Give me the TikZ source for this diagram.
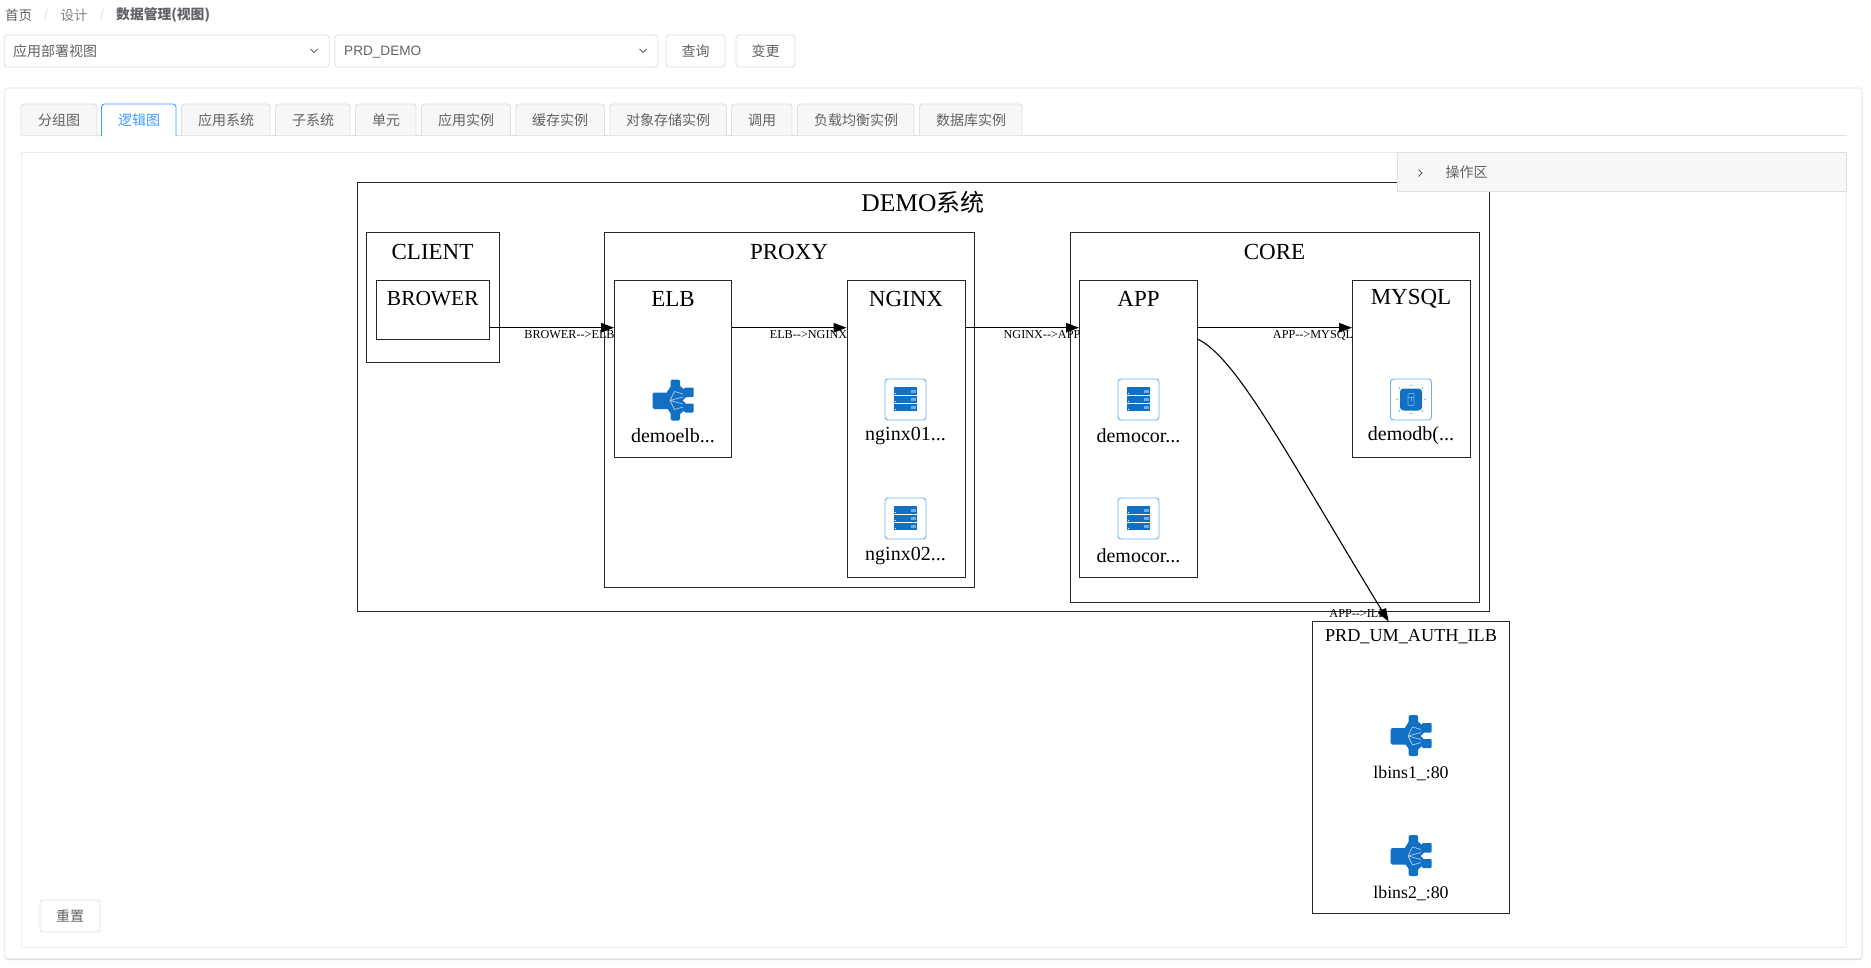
\documentclass[tikz,border=0pt]{standalone}
\usepackage{fontspec}
\setmainfont{Liberation Serif}
\newfontfamily\cjk{Noto Sans CJK SC}
\newfontfamily\uilatin{Liberation Sans}
\usetikzlibrary{arrows.meta}
\definecolor{uitext}{HTML}{606266}
\definecolor{uiline}{HTML}{DCDFE6}
\definecolor{uitab}{HTML}{F7F7F7}
\definecolor{uiblue}{HTML}{409EFF}
\definecolor{uishadow}{HTML}{EDEDED}
\definecolor{iconblue}{HTML}{1270C4}
\definecolor{iconline}{HTML}{6DB0EA}
\definecolor{iconpale}{HTML}{6FAEE6}
\definecolor{iconfan}{HTML}{A9CCEC}

\tikzset{
  groupbox/.style={draw=black!85, fill=white, line width=1pt, inner sep=0pt},
  titletext/.style={font=\fontsize{23}{25}\selectfont, inner sep=0pt},
  smalltitle/.style={font=\fontsize{18.2}{20}\selectfont, inner sep=0pt},
  hosttext/.style={font=\fontsize{20}{22}\selectfont, inner sep=0pt},
  smallhost/.style={font=\fontsize{17.8}{20}\selectfont, inner sep=0pt},
  edgetext/.style={font=\fontsize{12.2}{14}\selectfont, inner sep=0pt},
  edgeline/.style={line width=1.1pt, -{Triangle[length=13pt,width=9.5pt]}},
  uitextnode/.style={font=\cjk\fontsize{14}{16}\selectfont, text=uitext, inner sep=0pt},
  uibutton/.style={draw=uiline, fill=white, rounded corners=3pt, line width=0.9pt,
    inner sep=0pt, font=\cjk\fontsize{14}{16}\selectfont, text=uitext},
  chevron/.style={draw=uitext, line width=0.8pt},
  tabshape/.style={draw=uiline, fill=uitab, line width=0.9pt, rounded corners=3pt},
  elbicon/.pic={
    \fill[iconblue, rounded corners=1.5pt] (-20.5,-7.5) rectangle (-3,9);
    \fill[iconblue, rounded corners=1.5pt] (-2.5,-20.5) rectangle (7,-10);
    \fill[iconblue, rounded corners=1.5pt] (-2.5,10) rectangle (7,20.5);
    \fill[iconblue, rounded corners=1pt] (11,-12.5) rectangle (20.5,-3);
    \fill[iconblue, rounded corners=1pt] (11,3.5) rectangle (20.5,12.5);
    \fill[iconblue] (-6,-8) -- (-2,-14) -- (7,-14) -- (13,-9) -- (13,-3) -- (9.5,0.5) -- (13,4) -- (13,9)
      -- (7,14) -- (-2,14) -- (-6,8) -- cycle;
    \draw[iconfan, line width=0.7pt] (-3,0.5) -- (1.5,-8.5) -- (10,-6) (-3,0.5) -- (10,-3)
      (-3,0.5) -- (10,4) (-3,0.5) -- (1.5,9.5) -- (10,7);
  },
  serviceframe/.pic={
    \draw[iconline, fill=white, line width=0.9pt, rounded corners=3pt] (-20.5,-20.5) rectangle (20.5,20.5);
  },
  servericon/.pic={
    \pic {serviceframe};
    \fill[iconblue] (-11.7,-12.3) rectangle (11.7,-4.7);
    \fill[iconblue] (-11.7,-4) rectangle (11.7,3.7);
    \fill[iconblue] (-11.7,4.4) rectangle (11.7,11.8);
    \fill[iconpale] (5,-10) rectangle (10,-7);
    \fill[iconpale] (5,-1.8) rectangle (10,1.5);
    \fill[iconpale] (5,6.6) rectangle (10,9.6);
    \fill[white] (-10.4,-6.8) rectangle (-9.2,-5.6);
    \fill[white] (-10.4,1.2) rectangle (-9.2,2.4);
    \fill[white] (-10.4,9.4) rectangle (-9.2,10.6);
  },
  dbicon/.pic={
    \pic {serviceframe};
    \fill[iconblue, rounded corners=3.5pt] (-11,-11) rectangle (11,11);
    \draw[iconpale, line width=0.7pt, rounded corners=1pt] (-3,-6) rectangle (3,6);
    \draw[iconpale, line width=0.7pt] (-3,-2) -- (3,-2) (0,-2) -- (0,1);
    \fill[iconpale] (-14,0) circle (0.8) (14,0) circle (0.8) (0,-14) circle (0.8) (0,14) circle (0.8)
      (-11.5,-11.5) circle (0.8) (11.5,-11.5) circle (0.8) (-11.5,11.5) circle (0.8) (11.5,11.5) circle (0.8);
  }
}

\begin{document}
\begin{tikzpicture}[x=1pt, y=-1pt]
\useasboundingbox (0,0) rectangle (1871,968);
\fill[white] (0,0) rectangle (1871,968);

%---------------------------------------
% Page header
%---------------------------------------
\node[uitextnode, anchor=west] (crumbHome) at (5,15) {\fontsize{13.5}{15}\selectfont 首页};
\node[uitextnode, anchor=center, text=uiline] (crumbSepA) at (46,15) {\uilatin /};
\node[uitextnode, anchor=west, text=gray] (crumbDesign) at (60.5,15) {\fontsize{13.5}{15}\selectfont 设计};
\node[uitextnode, anchor=center, text=uiline] (crumbSepB) at (102,15) {\uilatin /};
\node[uitextnode, anchor=west] (crumbData) at (116,15) {\fontsize{13.8}{15}\selectfont\bfseries 数据管理(视图)};

% Selects and buttons
\node[uibutton, minimum width=325pt, minimum height=32pt] (viewSelect) at (166.7,51) {};
\node[uitextnode, anchor=west] (viewText) at (13,51) {应用部署视图};
\draw[chevron] (310.5,49) -- (314,52.5) -- (317.5,49);
\node[uibutton, minimum width=323pt, minimum height=32pt] (envSelect) at (496.5,51) {};
\node[uitextnode, anchor=west, font=\uilatin\fontsize{13.6}{16}\selectfont] (envText) at (344,52.5) {PRD\_DEMO};
\draw[chevron] (639.5,49) -- (643,52.5) -- (646.5,49);
\node[uibutton, minimum width=59pt, minimum height=32pt] (queryBtn) at (695.5,51) {查询};
\node[uibutton, minimum width=59pt, minimum height=32pt] (changeBtn) at (765.5,51) {变更};

%---------------------------------------
% Card, tabs and panel
%---------------------------------------
\fill[uiline, rounded corners=3pt] (4.5,90) rectangle (1862.5,960);
\draw[uishadow, fill=white, line width=1.2pt, rounded corners=3pt] (4.5,88) rectangle (1862,958.5);

% Tabs
\draw[uiline, line width=0.9pt] (21,135.5) -- (1846.5,135.5);
\def\tabtop{104}
\def\tabbot{135.5}
\draw[tabshape] (21,\tabbot) -- (21,\tabtop) -- (97,\tabtop) -- (97,\tabbot);
\node[uitextnode] (tabGroup) at (59,120.5) {分组图};
\draw[draw=uiblue, fill=white, line width=0.9pt, rounded corners=3pt] (101.5,\tabbot+1) -- (101.5,\tabtop) -- (176,\tabtop) -- (176,\tabbot+1);
\node[uitextnode, text=uiblue] (tabLogic) at (139,120.5) {逻辑图};
\draw[tabshape] (181.5,\tabbot) -- (181.5,\tabtop) -- (270,\tabtop) -- (270,\tabbot);
\node[uitextnode] (tabSystem) at (226,120.5) {应用系统};
\draw[tabshape] (275.5,\tabbot) -- (275.5,\tabtop) -- (350,\tabtop) -- (350,\tabbot);
\node[uitextnode] (tabSub) at (313,120.5) {子系统};
\draw[tabshape] (355.5,\tabbot) -- (355.5,\tabtop) -- (416,\tabtop) -- (416,\tabbot);
\node[uitextnode] (tabUnit) at (386,120.5) {单元};
\draw[tabshape] (421.5,\tabbot) -- (421.5,\tabtop) -- (510.5,\tabtop) -- (510.5,\tabbot);
\node[uitextnode] (tabApp) at (466,120.5) {应用实例};
\draw[tabshape] (516,\tabbot) -- (516,\tabtop) -- (604.5,\tabtop) -- (604.5,\tabbot);
\node[uitextnode] (tabCache) at (560,120.5) {缓存实例};
\draw[tabshape] (610,\tabbot) -- (610,\tabtop) -- (726.5,\tabtop) -- (726.5,\tabbot);
\node[uitextnode] (tabObject) at (668,120.5) {对象存储实例};
\draw[tabshape] (731.5,\tabbot) -- (731.5,\tabtop) -- (792,\tabtop) -- (792,\tabbot);
\node[uitextnode] (tabCall) at (762,120.5) {调用};
\draw[tabshape] (797.5,\tabbot) -- (797.5,\tabtop) -- (914,\tabtop) -- (914,\tabbot);
\node[uitextnode] (tabBalance) at (856,120.5) {负载均衡实例};
\draw[tabshape] (919.5,\tabbot) -- (919.5,\tabtop) -- (1022,\tabtop) -- (1022,\tabbot);
\node[uitextnode] (tabDb) at (971,120.5) {数据库实例};

% Inner panel
\draw[uishadow, fill=white, line width=1pt] (21.5,152.7) rectangle (1846.5,947);

%---------------------------------------
% DEMO system
%---------------------------------------
\node[groupbox, minimum width=1132pt, minimum height=428pt] (demo) at (923,397) {};
\node[inner sep=0pt, font=\fontsize{25.5}{28}\selectfont] (demoTitle) at (923,202) {DEMO{\cjk\fontsize{24}{28}\selectfont 系统}};

% CLIENT
\node[groupbox, minimum width=133pt, minimum height=129pt] (client) at (432.5,297.5) {};
\node[titletext] (clientTitle) at (432.5,252) {CLIENT};
\node[groupbox, minimum width=112.5pt, minimum height=58pt] (brower) at (432.75,310) {};
\node[titletext, font=\fontsize{21.4}{25}\selectfont] (browerTitle) at (432.75,299) {BROWER};

% PROXY
\node[groupbox, minimum width=370.5pt, minimum height=354pt] (proxy) at (789.25,410) {};
\node[titletext] (proxyTitle) at (789,252) {PROXY};
\node[groupbox, minimum width=117pt, minimum height=176pt] (elb) at (673,369) {};
\node[titletext] (elbTitle) at (673,299) {ELB};
\pic at (673,400) {elbicon};
\node[hosttext] (elbHost) at (673,436) {demoelb...};
\node[groupbox, minimum width=118pt, minimum height=296pt] (nginx) at (906,429) {};
\node[titletext] (nginxTitle) at (906,299) {NGINX};
\pic at (905.5,399.5) {servericon};
\node[hosttext] (nginxHostA) at (905.5,436) {nginx01...};
\pic at (905.5,518.5) {servericon};
\node[hosttext] (nginxHostB) at (905.5,556) {nginx02...};

% CORE
\node[groupbox, minimum width=409.6pt, minimum height=369pt] (core) at (1274.8,417.5) {};
\node[titletext] (coreTitle) at (1274.5,252) {CORE};
\node[groupbox, minimum width=118pt, minimum height=296pt] (app) at (1138.5,429) {};
\node[titletext] (appTitle) at (1138.5,299) {APP};
\pic at (1138.5,399.5) {servericon};
\node[hosttext] (appHostA) at (1138.5,436) {democor...};
\pic at (1138.5,518.5) {servericon};
\node[hosttext] (appHostB) at (1138.5,556) {democor...};
\node[groupbox, minimum width=117.5pt, minimum height=176pt] (mysql) at (1411.25,369) {};
\node[titletext] (mysqlTitle) at (1411,299) {MYSQL};
\pic at (1411,399.5) {dbicon};
\node[hosttext] (mysqlHost) at (1411,436) {demodb(...};

%---------------------------------------
% ILB outside the system
%---------------------------------------
\node[groupbox, minimum width=196.3pt, minimum height=292pt] (ilb) at (1410.85,767) {};
\node[smalltitle] (ilbTitle) at (1411,637) {PRD\_UM\_AUTH\_ILB};
\pic at (1411,735.5) {elbicon};
\node[smallhost] (ilbHostA) at (1411,773) {lbins1\_:80};
\pic at (1411,855.5) {elbicon};
\node[smallhost] (ilbHostB) at (1411,893) {lbins2\_:80};

%---------------------------------------
% Calls between groups
%---------------------------------------
\coordinate (flow) at (0,327.7);
\coordinate (appOut) at (1197.5,339);
\coordinate (ilbIn) at (1388.6,621.5);

\draw[edgeline] (brower.east |- flow) -- (elb.west |- flow);
\draw[edgeline] (elb.east |- flow) -- (nginx.west |- flow);
\draw[edgeline] (nginx.east |- flow) -- (app.west |- flow);
\draw[edgeline] (app.east |- flow) -- (mysql.west |- flow);
\draw[edgeline] (appOut) .. controls (1237,358) and (1287,455) .. (ilbIn);

\def\arrowtext{-{}->}
\node[edgetext] (browerElb) at (569.5,335) {BROWER\arrowtext ELB};
\node[edgetext] (elbNginx) at (808.5,335) {ELB\arrowtext NGINX};
\node[edgetext] (nginxApp) at (1042,335) {NGINX\arrowtext APP};
\node[edgetext] (appMysql) at (1313,335) {APP\arrowtext MYSQL};
\node[edgetext] (appIlb) at (1358,613.5) {APP\arrowtext ILB};

%---------------------------------------
% Floating controls
%---------------------------------------
\draw[uiline, fill=uitab, line width=0.9pt] (1397.7,152.7) rectangle (1846.5,191.7);
\draw[chevron] (1418.5,169.5) -- (1422,173) -- (1418.5,176.5);
\node[uitextnode, anchor=west, font=\cjk\fontsize{14}{16}\selectfont] (opsText) at (1445.5,172.5) {操作区};
\node[uibutton, minimum width=60pt, minimum height=32pt] (resetBtn) at (70,916) {重置};

\end{tikzpicture}
\end{document}
